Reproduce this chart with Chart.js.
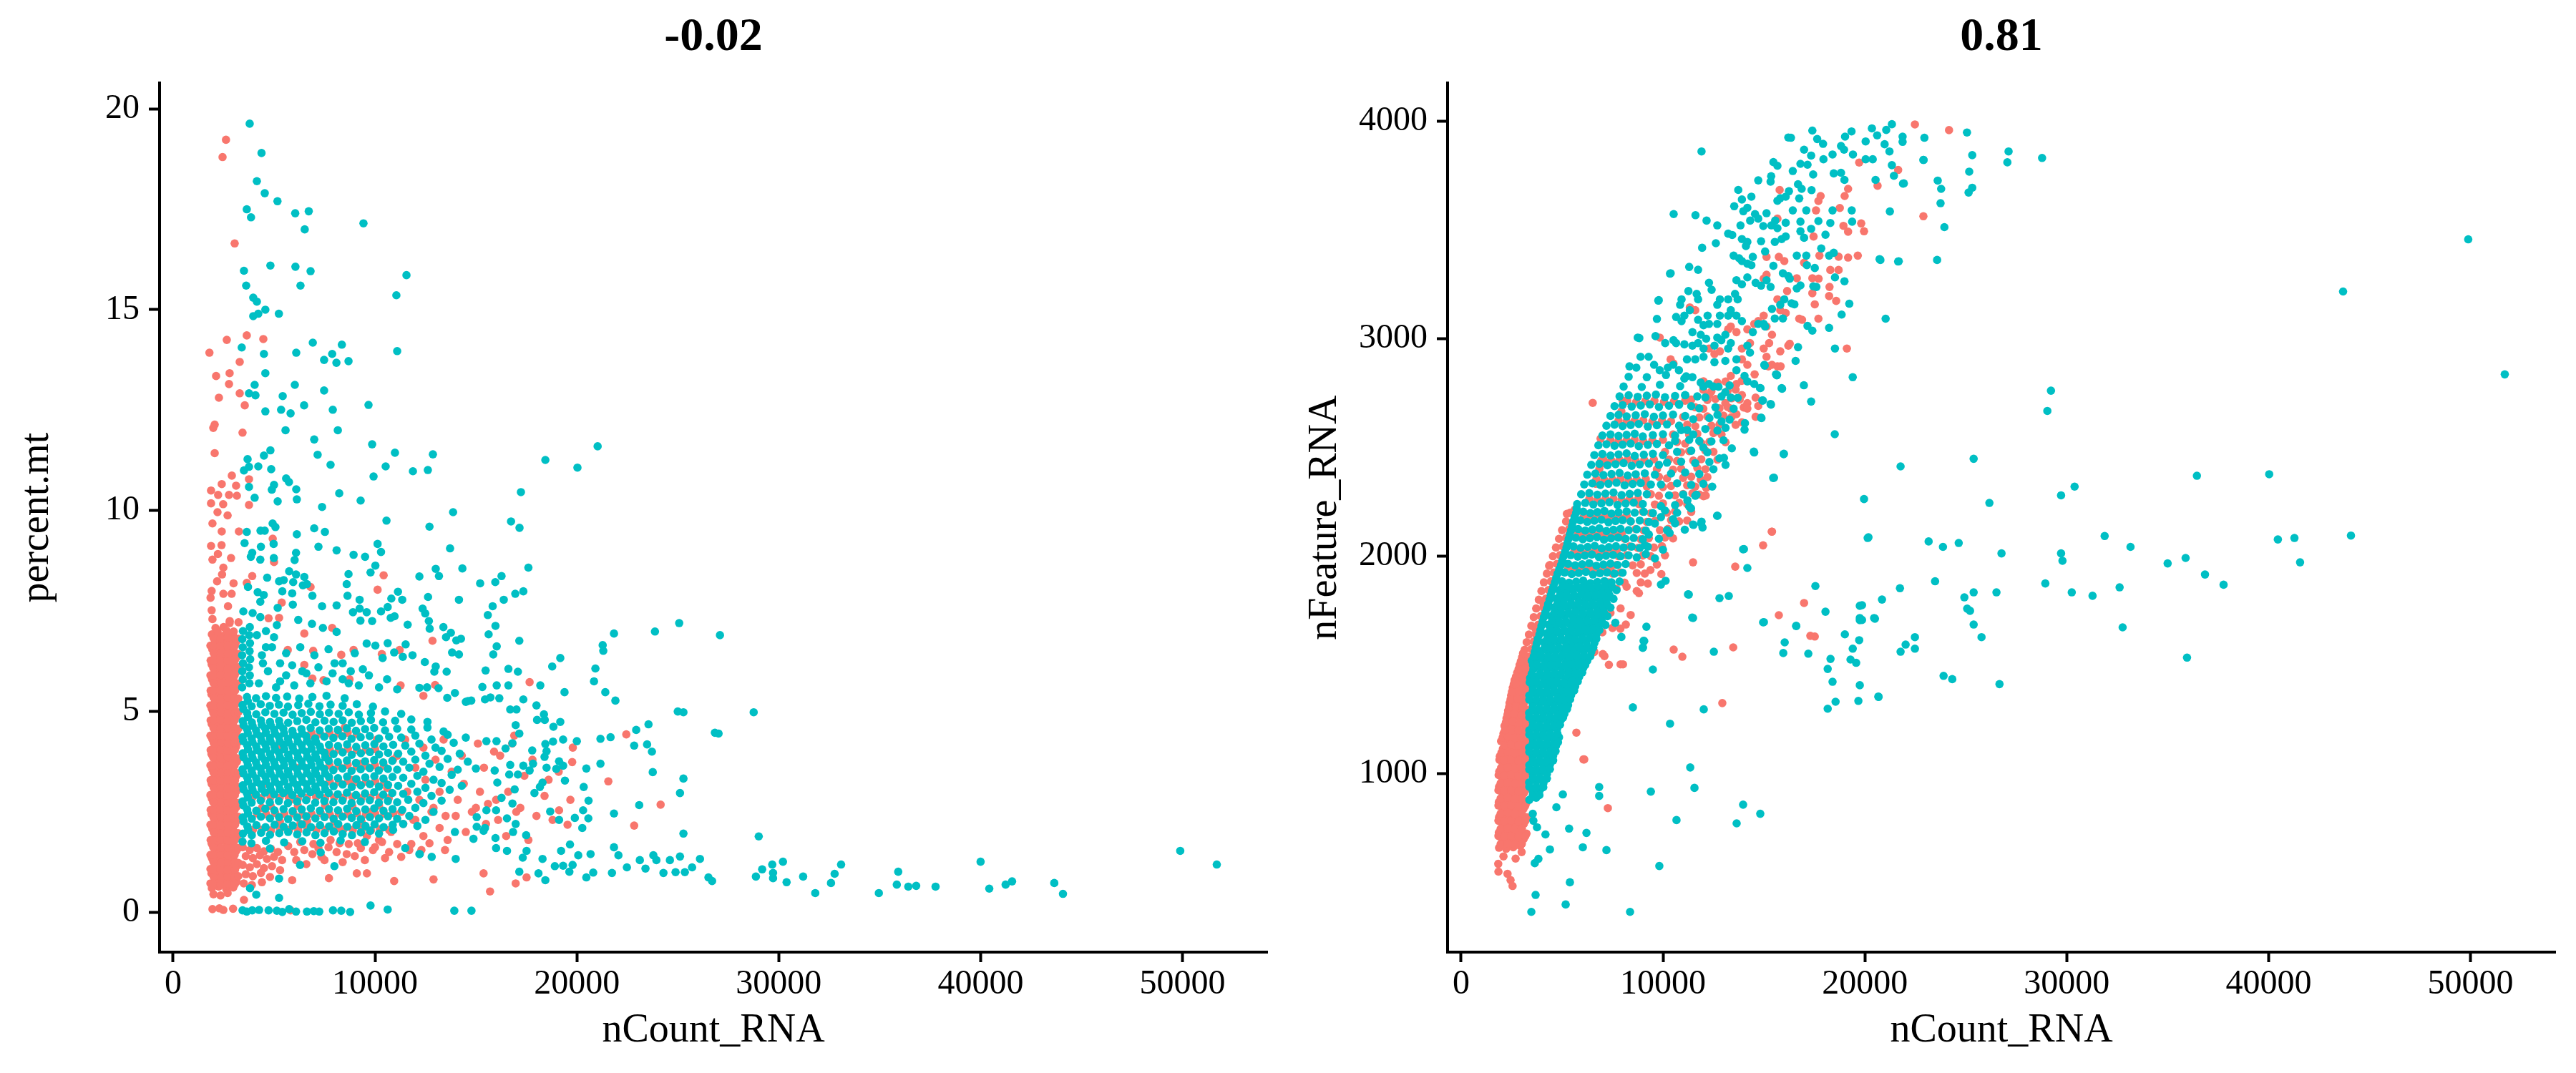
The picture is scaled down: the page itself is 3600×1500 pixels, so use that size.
<!DOCTYPE html>
<html>
<head>
<meta charset="utf-8">
<title>nCount_RNA vs percent.mt / nFeature_RNA</title>
<script src="https://cdn.jsdelivr.net/npm/chart.js"></script>
<style>
  html, body { margin: 0; padding: 0; background: #fff; }
  .panel { position: absolute; top: 0; }
</style>
</head>
<body>
<canvas id="mtChart" class="panel" width="1800" height="1500" style="left:0"></canvas>
<canvas id="featureChart" class="panel" width="1800" height="1500" style="left:1800px"></canvas>
<script>
const xTicks = [0, 10000, 20000, 30000, 40000, 50000]
const mtTicks = [0, 5, 10, 15, 20]
const featureTicks = [1000, 2000, 3000, 4000]
const panelTitles = ["-0.02", "0.81"]
const axisTitles = { x: "nCount_RNA", mt: "percent.mt", feature: "nFeature_RNA" }

// left panel: nCount_RNA vs percent.mt, red group
const mtRed = [
  [1920,0.6],[2260,0.64],[2630,0.58],[2980,0.62],[2080,0.79],[2440,0.77],[2790,0.81],[3140,0.76],
  [1900,0.97],[2270,0.95],[2610,0.99],[2960,0.94],[2090,1.15],[2450,1.17],[2800,1.13],[3160,1.16],
  [1930,1.34],[2280,1.32],[2620,1.36],[2970,1.33],[2070,1.52],[2430,1.54],[2780,1.5],[3130,1.53],
  [1910,1.71],[2250,1.7],[2640,1.73],[2990,1.69],[2100,1.9],[2460,1.88],[2810,1.92],[3170,1.89],
  [1940,2.08],[2290,2.1],[2600,2.07],[2950,2.09],[2060,2.27],[2420,2.25],[2770,2.28],[3120,2.26],
  [1900,2.45],[2260,2.47],[2630,2.44],[2980,2.46],[2090,2.64],[2450,2.62],[2800,2.65],[3150,2.63],
  [1920,2.83],[2280,2.81],[2610,2.84],[2960,2.82],[2080,3.01],[2440,3.03],[2790,3.0],[3140,3.02],
  [1910,3.2],[2270,3.18],[2620,3.21],[2990,3.19],[2070,3.38],[2430,3.4],[2780,3.37],[3130,3.39],
  [1930,3.57],[2290,3.55],[2640,3.58],[2970,3.56],[2100,3.76],[2460,3.74],[2810,3.77],[3160,3.75],
  [1900,3.94],[2250,3.96],[2600,3.93],[2950,3.95],[2060,4.13],[2420,4.11],[2770,4.14],[3120,4.12],
  [1940,4.31],[2280,4.33],[2630,4.3],[2980,4.32],[2090,4.5],[2450,4.48],[2800,4.51],[3150,4.49],
  [1910,4.69],[2260,4.67],[2610,4.7],[2960,4.68],[2070,4.87],[2430,4.89],[2790,4.86],[3140,4.88],
  [1920,5.06],[2290,5.04],[2640,5.07],[2990,5.05],[2080,5.24],[2440,5.26],[2780,5.23],[3130,5.25],
  [1900,5.43],[2270,5.41],[2620,5.44],[2970,5.42],[2100,5.62],[2460,5.6],[2810,5.63],[3160,5.61],
  [1930,5.8],[2280,5.82],[2630,5.79],[2980,5.81],[2060,5.99],[2420,5.97],[2770,6.0],[3120,5.98],
  [1910,6.17],[2250,6.19],[2600,6.16],[2950,6.18],[2090,6.36],[2450,6.34],[2800,6.37],[3150,6.35],
  [1940,6.55],[2290,6.53],[2640,6.56],[2990,6.54],[2070,6.73],[2430,6.75],[2780,6.72],[3130,6.74],
  [1920,6.92],[2270,6.9],[2610,6.93],[2960,6.91],[2100,7.08],[2500,7.1],[1950,7.3],[2800,7.2],
  [1850,0.72],[1990,0.7],[2350,0.69],[2700,0.71],[3060,0.7],[2010,0.88],[2360,0.87],[2710,0.89],[3050,0.88],[3230,0.9],
  [1850,1.08],[1990,1.06],[2340,1.07],[2690,1.05],[3070,1.06],[2000,1.25],[2370,1.24],[2720,1.26],[3060,1.25],[3230,1.23],
  [1850,1.43],[2010,1.43],[2350,1.44],[2700,1.42],[3050,1.43],[1990,1.62],[2360,1.61],[2710,1.63],[3070,1.62],[3230,1.6],
  [1860,1.8],[2000,1.8],[2340,1.81],[2690,1.79],[3060,1.8],[2010,1.99],[2370,1.98],[2720,2.0],[3050,1.99],[3230,1.97],
  [1850,2.18],[1990,2.18],[2350,2.17],[2700,2.19],[3070,2.18],[2000,2.36],[2360,2.37],[2710,2.35],[3060,2.36],[3230,2.38],
  [1860,2.55],[2010,2.55],[2340,2.56],[2690,2.54],[3050,2.55],[1990,2.74],[2370,2.73],[2720,2.75],[3070,2.74],[3230,2.72],
  [1850,2.92],[2000,2.92],[2350,2.93],[2700,2.91],[3060,2.92],[2010,3.1],[2360,3.11],[2710,3.09],[3050,3.1],[3230,3.12],
  [1860,3.29],[1990,3.29],[2340,3.28],[2690,3.3],[3070,3.29],[2000,3.48],[2370,3.47],[2720,3.49],[3060,3.48],[3230,3.46],
  [1850,3.66],[2010,3.66],[2350,3.67],[2700,3.65],[3050,3.66],[1990,3.85],[2360,3.84],[2710,3.86],[3070,3.85],[3230,3.83],
  [1860,4.04],[2000,4.04],[2340,4.05],[2690,4.03],[3060,4.04],[2010,4.22],[2370,4.23],[2720,4.21],[3050,4.22],[3230,4.24],
  [1850,4.4],[1990,4.4],[2350,4.41],[2700,4.39],[3070,4.4],[2000,4.59],[2360,4.58],[2710,4.6],[3060,4.59],[3230,4.57],
  [1860,4.78],[2010,4.78],[2340,4.79],[2690,4.77],[3050,4.78],[1990,4.96],[2370,4.97],[2720,4.95],[3070,4.96],[3230,4.98],
  [1850,5.15],[2000,5.15],[2350,5.14],[2700,5.16],[3060,5.15],[2010,5.34],[2360,5.33],[2710,5.35],[3050,5.34],[3230,5.32],
  [1860,5.52],[1990,5.52],[2340,5.53],[2690,5.51],[3070,5.52],[2000,5.71],[2370,5.7],[2720,5.72],[3060,5.71],[3230,5.69],
  [1850,5.9],[2010,5.9],[2350,5.91],[2700,5.89],[3050,5.9],[1990,6.08],[2360,6.09],[2710,6.07],[3070,6.08],[3230,6.1],
  [1860,6.27],[2000,6.27],[2340,6.26],[2690,6.28],[3060,6.27],[2010,6.45],[2370,6.46],[2720,6.44],[3050,6.45],[3230,6.43],
  [1850,6.64],[1990,6.64],[2350,6.65],[2700,6.63],[3070,6.64],[2000,6.83],[2360,6.82],[2710,6.84],[3060,6.83],[3230,6.81],
  [2200,7.0],[2650,7.01],[3000,6.99],
  [2000,0.45],[2350,0.42],[2700,0.48],[1950,0.08],[2290,0.1],[2490,0.06],[2970,0.09],[3510,0.31],[5820,0.05],
  [3450,1.62],[3800,1.55],[4150,1.6],[4500,1.52],[4850,1.58],[5200,1.5],[3600,1.4],[3950,1.35],[4300,1.42],
  [4650,1.33],[5000,1.38],[5400,1.3],[3450,1.18],[3800,1.12],[4150,1.2],[4500,1.1],[4900,1.15],[5300,1.05],
  [3600,0.95],[3950,0.9],[4350,0.98],[4800,0.88],[3500,0.72],[3900,0.68],[4400,0.75],
  [3950,2.05],[4400,2.06],[4850,2.04],[5300,2.07],[5750,2.05],[6200,2.04],[6650,2.08],[7100,2.05],[7550,2.06],
  [8000,2.04],[8450,2.07],[8900,2.05],[9350,2.06],[9800,2.04],[10250,2.07],[10700,2.05],
  [4160,2.46],[4610,2.44],[5060,2.47],[5510,2.45],[5960,2.46],[6410,2.43],[6860,2.45],[7310,2.47],[7760,2.44],
  [8210,2.46],[8660,2.45],[9110,2.47],[9560,2.44],[10010,2.46],[10460,2.45],[10910,2.47],
  [3930,2.86],[4380,2.84],[4830,2.87],[5280,2.85],[5730,2.86],[6180,2.83],[6630,2.85],[7080,2.87],[7530,2.84],
  [7980,2.86],[8430,2.85],[8880,2.87],[9330,2.84],[9780,2.85],[10230,2.86],[10680,2.84],
  [5290,2.26],[6640,2.27],[7990,2.25],[9340,2.25],[4830,2.65],[6180,2.65],[7530,2.66],[8880,2.64],[10200,2.66],
  [7760,3.26],[8210,3.25],[8660,3.27],[9110,3.24],[9560,3.25],[10010,3.26],[10460,3.24],
  [7750,3.66],[8200,3.65],[8650,3.67],[9100,3.64],[9550,3.65],[10000,3.66],[10450,3.64],
  [7760,4.06],[8210,4.05],[8660,4.07],[9110,4.04],[9560,4.05],[10010,4.06],
  [6850,4.47],[7300,4.44],[7750,4.46],[8200,4.45],[8650,4.47],[9100,4.44],
  [2220,8.92],[1880,9.12],[2400,9.14],[1950,8.78],[2870,8.82],[2490,8.58],[2425,8.41],[2180,8.24],
  [2995,8.19],[3920,8.37],[3650,8.2],[1910,8.0],[1855,7.83],[2490,7.93],[2900,7.93],[2720,7.62],
  [1910,7.52],[4935,9.3],[5000,8.72],[4730,7.32],[5250,7.33],[5380,7.71],[6810,8.1],[2805,7.25],[3240,7.22],
  [2620,19.23],[2450,18.8],[3050,16.65],[3650,14.36],[2660,14.25],[4470,14.27],[1800,13.93],[3300,13.7],
  [2130,13.35],[2800,13.42],[2770,13.15],[3300,12.92],[2270,12.81],[3550,12.62],[2060,12.14],[1990,12.06],
  [3440,11.94],[2060,11.43],[2910,10.87],[2410,10.66],[3120,10.62],[3760,10.78],[1880,10.5],[2230,10.39],
  [2770,10.39],[3160,10.37],[1880,10.18],[2480,10.16],[3760,10.14],[2200,9.96],[2700,9.88],[1950,9.68],
  [2410,9.48],[3260,9.48],
  [6500,6.94],[7880,7.08],[8940,6.53],[8330,6.41],[6940,6.51],[5680,6.53],[11220,6.53],[10340,6.43],
  [11270,5.65],[12400,5.39],[12980,5.66],[6900,5.82],[8740,5.8],[7450,5.78],[6500,6.16],[12850,6.76],
  [10430,8.39],[10130,8.03],[17660,5.73],
  [6000,1.5],[6300,1.75],[6600,1.2],[6900,1.45],[7200,1.6],[7500,1.3],[7800,1.8],[8100,1.5],[8400,1.25],
  [8700,1.7],[9000,1.4],[9300,1.6],[9600,1.9],[9900,1.55],[10200,1.8],[10500,1.35],[10800,2.0],[11100,1.7],
  [11400,2.2],[11700,1.55],[12000,2.3],[12400,1.9],[12800,2.5],[13200,2.1],[13600,1.8],[14000,2.4],
  [14500,2.0],[15000,2.6],[15500,2.2],[16000,2.8],[16500,1.9],[17000,2.5],
  [5700,1.65],[6100,1.3],[6500,1.55],[6950,1.7],[7350,1.38],[7700,1.62],[8250,1.72],[8600,1.45],
  [9150,1.72],[9500,1.3],[10000,1.62],[10350,1.75],[10700,1.5],[11300,1.38],[11800,1.7],[12300,1.55],[12700,1.72],
  [11300,2.5],[11600,3.0],[11900,2.3],[12200,2.8],[12500,3.3],[12900,2.6],[13200,3.0],[13500,2.4],
  [13800,3.5],[14100,2.8],[14400,3.2],[14800,2.5],[15200,3.0],[15600,2.7],[16100,2.3],[16600,3.0],
  [17200,2.6],[11100,3.9],[11500,4.3],[12000,3.6],[12400,4.1],[13000,3.8],[13400,4.3],[14300,3.9],
  [15100,4.2],[15400,3.6],[16200,3.9],[16800,4.2],[17400,3.4],[18000,2.4],[18600,3.3],[17800,3.8],
  [18400,2.9],[19100,3.5],[19800,4.1],[18800,2.3],[17600,1.8],[16900,4.4],[15900,4.0],
  [4600,3.2],[5300,4.1],[6100,3.6],[6900,4.4],[7700,3.9],[8500,4.6],[9300,3.7],[10100,4.3],[10900,3.8],
  [5800,2.8],[7100,3.0],[8800,3.3],[10600,3.1],[4400,2.6],[6300,2.2],[8200,2.1],[9800,2.5],
  [9100,0.97],[9600,0.97],[10950,0.78],[12900,0.82],[15380,0.97],[15700,0.52],[16970,0.72],[17510,0.87],
  [7720,0.85],[13470,1.55],[5900,0.8],
  [22450,4.43],[24150,2.68],[22840,2.16],[21560,3.26],[19680,2.8],[19540,2.18],[19770,3.74],[19120,2.54]
]

// left panel: nCount_RNA vs percent.mt, cyan group
const mtCyan = [
  [3794,19.63],[4380,18.9],[4150,18.2],[4540,17.9],[5170,17.7],[3650,17.5],[3860,17.3],[6050,17.4],
  [6720,17.45],[6520,17.0],[9430,17.15],[4820,16.1],[6060,16.07],[6810,15.96],[3510,15.97],[11560,15.86],
  [3620,15.6],[6310,15.6],[11060,15.36],[3970,15.3],[4150,15.2],[4570,15.0],[3970,14.84],[4220,14.9],
  [5240,14.9],[3400,14.06],[4500,13.9],[6100,13.93],[6920,14.18],[8360,14.13],[7880,13.9],[7480,13.75],
  [8090,13.68],[8690,13.72],[11100,13.97],[4570,13.42],[4040,13.13],[6030,13.13],[7480,12.99],[3760,12.92],
  [4080,12.87],[5430,12.85],[6490,12.62],[9680,12.63],[4570,12.47],[5350,12.51],[5820,12.42],[7910,12.51],
  [5570,12.0],[8160,12.0],[6990,11.77],[9860,11.65],[21030,11.6],[18440,11.26],[20030,11.07],[4820,11.5],
  [4500,11.37],[7160,11.39],[10990,11.44],[12870,11.4],[3690,11.28],[3510,11.0],[3760,11.09],[4220,11.1],
  [4860,11.03],[7800,11.14],[10530,11.1],[11880,10.98],[12620,11.01],[9930,10.85],[5600,10.8],[5740,10.71],
  [5000,10.64],[4890,10.52],[3760,10.59],[6100,10.53],[8230,10.43],[17230,10.46],[4040,10.32],[5180,10.23],
  [6130,10.28],[9290,10.25],[7380,10.09],[13870,9.96],[16740,9.73],[17160,9.57],[10570,9.75],[12700,9.6],
  [3650,9.47],[4330,9.5],[4540,9.5],[4930,9.68],[5070,9.59],[6130,9.41],[6990,9.56],[7520,9.47],
  [4980,9.17],[3540,9.19],[4350,9.1],[3920,8.95],[3850,8.85],[4320,8.78],[4990,8.82],[6090,8.95],
  [6020,8.77],[7200,9.1],[8100,9.01],[8940,8.9],[9510,8.85],[10130,9.17],[10300,8.97],[13720,9.06],
  [17600,8.58],[10020,8.63],[9780,8.46],[8690,8.42],[12200,8.36],[13010,8.55],[13170,8.37],[14330,8.56],
  [15210,8.19],[15960,8.22],[16270,8.37],[4660,8.33],[5750,8.49],[6090,8.41],[6500,8.35],[5250,8.24],
  [5480,8.27],[5950,8.22],[6430,8.14],[6630,8.17],[8600,8.17],[3710,8.1],[4190,7.97],[4490,7.9],
  [5410,7.99],[5900,7.94],[6900,7.88],[8640,7.88],[9240,7.78],[10810,7.81],[11140,7.98],[11350,7.78],
  [12630,7.85],[14160,7.78],[16950,7.93],[17350,7.99],[16380,7.78],[15830,7.62],[15590,7.4],[15970,7.13],
  [15630,6.92],[15860,6.42],[16030,6.62],[17150,6.76],[13520,6.85],[13760,6.96],[14030,6.77],[14260,6.81],
  [13820,6.47],[14160,6.42],[13390,7.1],[12670,7.25],[12710,7.06],[12360,7.56],[12490,7.44],[11620,7.16],
  [10970,7.37],[10780,7.33],[10630,7.6],[10300,7.49],[9860,7.25],[9590,7.47],[9280,7.26],[8910,7.47],
  [9240,7.56],[8100,7.64],[7380,7.62],[5930,7.66],[5180,7.58],[4320,7.73],[3480,7.49],[3940,7.45],
  [4320,7.35],[5140,7.15],[6200,7.28],[6880,7.18],[7420,7.08],[8100,6.98],[9590,6.69],[10020,6.64],
  [10630,6.7],[11520,6.67],[10380,6.33],[10950,6.47],[11380,6.36],[11860,6.4],[12470,6.23],[13010,6.12],
  [12940,5.99],[13550,5.99],[15480,6.02],[16610,6.06],[17080,5.99],[18780,6.12],[19180,6.33],[19390,5.48],
  [18190,5.65],[16610,5.65],[16030,5.65],[15320,5.61],[15450,5.3],[15720,5.35],[16160,5.33],[14610,5.26],
  [13960,5.46],[13580,5.34],[12200,5.59],[12580,5.6],[13150,5.58],
  [14500,5.24],[14770,5.27],[16700,5.05],[17010,5.05],[17350,5.3],[18000,5.15],[18370,4.93],[18030,4.79],
  [18410,4.79],[18840,4.62],[19180,4.74],[20000,4.26],[19320,4.3],[18820,4.25],[18440,4.19],[18400,3.87],
  [18500,4.01],[17790,4.03],[17350,3.65],[17830,3.7],[17660,3.53],[17080,3.43],[16700,3.67],[16650,3.43],
  [15930,3.53],[15520,4.26],[16020,4.26],[16970,4.66],[17150,4.45],[16810,4.21],[16470,4.08],[19120,3.76],
  [19320,3.65],[18980,3.57],[18500,3.6],[19410,3.28],[20470,3.58],[20340,3.12],[20580,2.78],[20570,2.34],
  [19900,2.35],[20310,2.54],[19120,2.3],[18680,2.51],[18170,3.12],[18300,3.23],[17900,2.97],[16920,3.06],
  [16810,2.71],[16970,2.2],[16540,2.34],[16270,2.85],[16060,3.23],[15520,2.54],[16000,2.54],[15380,2.03],
  [14880,1.83],[16000,1.6],[16540,1.53],[16840,2.0],[17490,1.92],[17320,1.36],[17510,1.53],[17150,1.01],
  [18100,0.97],[18300,1.33],[18440,0.8],[18910,1.15],[19320,1.16],[19630,1.01],[19790,1.18],[20070,1.42],
  [20680,1.45],[20470,0.87],[20810,0.99],[20270,2.1],[19660,1.69],[19220,1.53],[15040,2.37],[15040,2.13],
  [15450,2.1],[13960,2.0],[15970,1.85],
  [21840,6.94],[23870,6.99],[25070,7.2],[21280,6.65],[21310,6.51],[20920,6.07],[21410,5.48],[21910,5.27],
  [25000,5.0],[25280,4.98],[26840,4.47],[22940,4.54],[23550,4.68],[22840,4.15],[23480,4.18],[23720,4.0],
  [21170,4.32],[21670,4.36],[23760,3.49],[25280,3.33],[25110,2.97],[21170,3.7],[21840,2.46],[25280,1.96],
  [23090,2.67],[21840,1.62],[22060,1.42],[21740,0.98],[22480,1.12],[23120,1.3],[23400,1.09],[23790,1.42],
  [23940,1.3],[24290,0.98],[24610,1.3],[24890,1.0],[25110,1.39],[25350,1.0],[25710,1.12],[26100,1.33],
  [26520,0.87],[26700,0.78],[20850,5.75],
  [27090,6.9],[28760,4.98],[27020,4.45],[29010,1.89],[29680,1.19],[30210,1.26],[29180,1.07],[29720,0.98],
  [29720,0.85],[28870,0.89],[30390,0.75],[31210,0.89],[31810,0.48],[32590,0.73],[32770,0.96],[33090,1.19],
  [34960,0.48],[35850,0.69],[35920,1.01],[36420,0.64],[36810,0.66],[37770,0.64],[40000,1.26],[40430,0.59],
  [41240,0.69],[41560,0.77],[43650,0.73],[44080,0.46],[49890,1.53],[51700,1.19],
  [3440,0.05],[3650,0.02],[3920,0.05],[4260,0.06],[4730,0.05],[5140,0.04],[5410,0.01],[5750,0.08],
  [6090,0.02],[6630,0.02],[6970,0.03],[7240,0.02],[7920,0.05],[8330,0.04],[8770,0.01],[9780,0.17],
  [10630,0.07],[13930,0.04],[14780,0.04],[3810,0.6],[4120,0.44],[5250,0.84],[5250,0.36],
  [7990,1.15],[6290,1.18],[7310,1.49],[4800,1.59],[12810,1.38],[14000,1.33],[12220,1.45],
  [3420,5.6],[3780,5.7],[3450,5.8],[3800,5.9],[3430,6.0],[3760,6.1],[3460,6.2],[3820,6.3],
  [3420,6.4],[3790,6.5],[3450,6.6],[3810,6.7],[3430,6.8],[3770,6.9],[3460,7.0],[3800,7.1],
  [4250,5.7],[4700,6.0],[5100,5.6],[4400,6.4],[4900,6.6],[5300,6.2],[4150,6.9],[4600,7.0],
  [5600,5.9],[6000,5.65],[6400,6.0],[6800,5.7],[7200,6.1],[7600,5.75],[8000,6.2],[8400,5.8],
  [8800,6.0],[9200,5.65],[9700,5.9],[10200,5.6],[10600,5.8],[11100,5.55],
  [4600,6.6],[5000,6.85],[4450,6.2],[5600,6.45],[6300,6.6],[5900,6.15],[7000,6.4],[7700,6.55],
  [8400,6.2],[9000,6.45],[9400,6.05],[6600,5.95],[7900,5.95],[8700,5.7],[5300,5.75],
  [3440,1.76],[3880,1.72],[4600,1.78],[5500,1.74],[6400,1.77],[7300,1.73],[8300,1.79],[9500,1.75],[11500,1.6],[12200,1.45],
  [3460,1.96],[3900,1.92],[4360,1.98],[4800,1.93],[5260,1.97],[5700,2.0],[6150,1.94],[6610,1.99],[7050,1.92],
  [7500,1.97],[7960,2.01],[8400,1.95],[8860,1.92],[9300,1.99],[9760,2.03],[10200,1.96],[10900,2.05],
  [3680,2.14],[4130,2.17],[4580,2.12],[5030,2.18],[5480,2.13],[5930,2.16],[6380,2.19],[6830,2.12],[7280,2.17],
  [7730,2.14],[8180,2.2],[8630,2.13],[9080,2.17],[9530,2.15],[9980,2.19],[10430,2.12],[10880,2.18],[11400,2.2],[12100,2.15],
  [3450,2.36],[3900,2.33],[4350,2.38],[4800,2.34],[5250,2.37],[5700,2.32],[6150,2.36],[6600,2.39],[7050,2.34],
  [7500,2.37],[7950,2.33],[8400,2.38],[8850,2.35],[9300,2.32],[9750,2.37],[10200,2.34],[10650,2.39],[11100,2.33],[11700,2.4],[12500,2.3],
  [3670,2.56],[4120,2.53],[4570,2.58],[5020,2.54],[5470,2.57],[5920,2.52],[6370,2.56],[6820,2.59],[7270,2.53],
  [7720,2.57],[8170,2.54],[8620,2.58],[9070,2.52],[9520,2.56],[9970,2.59],[10420,2.53],[10870,2.57],[11350,2.55],[12000,2.6],[12900,2.5],
  [3440,2.76],[3890,2.73],[4340,2.78],[4790,2.74],[5240,2.77],[5690,2.72],[6140,2.76],[6590,2.79],[7040,2.73],
  [7490,2.77],[7940,2.74],[8390,2.78],[8840,2.72],[9290,2.76],[9740,2.79],[10190,2.73],[10640,2.77],[11100,2.74],[11650,2.8],[12400,2.72],[13300,2.78],
  [3660,2.96],[4110,2.93],[4560,2.98],[5010,2.94],[5460,2.97],[5910,2.92],[6360,2.96],[6810,2.99],[7260,2.93],
  [7710,2.97],[8160,2.94],[8610,2.98],[9060,2.92],[9510,2.96],[9960,2.99],[10410,2.93],[10860,2.97],[11400,2.95],[12100,3.0],[12800,2.9],[13700,3.05],
  [3450,3.16],[3900,3.13],[4350,3.18],[4800,3.14],[5250,3.17],[5700,3.12],[6150,3.16],[6600,3.19],[7050,3.13],
  [7500,3.17],[7950,3.14],[8400,3.18],[8850,3.12],[9300,3.16],[9750,3.19],[10200,3.13],[10650,3.17],[11150,3.15],[11800,3.2],[12500,3.1],[13300,3.22],[14300,3.15],
  [3670,3.36],[4120,3.33],[4570,3.38],[5020,3.34],[5470,3.37],[5920,3.32],[6370,3.36],[6820,3.39],[7270,3.33],
  [7720,3.37],[8170,3.34],[8620,3.38],[9070,3.32],[9520,3.36],[9970,3.39],[10420,3.33],[10870,3.37],[11400,3.35],[12100,3.4],[12900,3.3],[13800,3.42],
  [3440,3.56],[3890,3.53],[4340,3.58],[4790,3.54],[5240,3.57],[5690,3.52],[6140,3.56],[6590,3.59],[7040,3.53],
  [7490,3.57],[7940,3.54],[8390,3.58],[8840,3.52],[9290,3.56],[9740,3.59],[10190,3.53],[10640,3.57],[11100,3.55],[11700,3.6],[12400,3.5],[13200,3.62],[14100,3.55],[15000,3.58],
  [3660,3.76],[4110,3.73],[4560,3.78],[5010,3.74],[5460,3.77],[5910,3.72],[6360,3.76],[6810,3.79],[7260,3.73],
  [7710,3.77],[8160,3.74],[8610,3.78],[9060,3.72],[9510,3.76],[9960,3.79],[10410,3.73],[10860,3.77],[11400,3.75],[12000,3.8],[12700,3.7],[13600,3.82],[14600,3.75],
  [3450,3.96],[3900,3.93],[4350,3.98],[4800,3.94],[5250,3.97],[5700,3.92],[6150,3.96],[6600,3.99],[7050,3.93],
  [7500,3.97],[7950,3.94],[8400,3.98],[8850,3.92],[9300,3.96],[9750,3.99],[10200,3.93],[10650,3.97],[11150,3.95],[11800,4.0],[12500,3.9],[13300,4.02],[14200,3.95],
  [3670,4.16],[4120,4.13],[4570,4.18],[5020,4.14],[5470,4.17],[5920,4.12],[6370,4.16],[6820,4.19],[7270,4.13],
  [7720,4.17],[8170,4.14],[8620,4.18],[9070,4.12],[9520,4.16],[9970,4.19],[10420,4.13],[10900,4.17],[11500,4.15],[12200,4.2],[13000,4.1],[13900,4.22],
  [3440,4.36],[3890,4.33],[4340,4.38],[4790,4.34],[5240,4.37],[5690,4.32],[6140,4.36],[6590,4.39],[7040,4.33],
  [7490,4.37],[7940,4.34],[8390,4.38],[8840,4.32],[9290,4.36],[9740,4.39],[10200,4.33],[10700,4.37],[11300,4.35],[12000,4.4],[12800,4.3],[13600,4.42],[14500,4.35],
  [3660,4.56],[4110,4.53],[4560,4.58],[5010,4.54],[5460,4.57],[5910,4.52],[6360,4.56],[6810,4.59],[7260,4.53],
  [7710,4.57],[8160,4.54],[8610,4.58],[9060,4.52],[9510,4.56],[9960,4.59],[10500,4.53],[11100,4.57],[11800,4.55],[12600,4.6],[13400,4.5],
  [3450,4.76],[3900,4.73],[4350,4.78],[4800,4.74],[5250,4.77],[5700,4.72],[6150,4.76],[6600,4.79],[7050,4.73],
  [7500,4.77],[7950,4.74],[8400,4.78],[8850,4.72],[9300,4.76],[9800,4.79],[10400,4.73],[11000,4.77],[11800,4.8],[12600,4.74],
  [3670,4.96],[4120,4.93],[4570,4.98],[5020,4.94],[5470,4.97],[5920,4.92],[6370,4.96],[6820,4.99],[7270,4.93],
  [7720,4.97],[8200,4.94],[8700,4.98],[9200,4.92],[9800,4.96],[10500,5.0],[11300,4.94],
  [3440,5.16],[3890,5.13],[4340,5.18],[4790,5.14],[5240,5.17],[5690,5.12],[6200,5.16],[6700,5.19],[7250,5.13],
  [7800,5.17],[8400,5.14],[9100,5.18],[9900,5.12],
  [3660,5.36],[4110,5.33],[4600,5.38],[5100,5.34],[5650,5.37],[6250,5.32],[6900,5.36],[7600,5.39],[8500,5.33],
  [3720,2.05],[3490,2.26],[3710,2.46],[3480,2.66],[3700,2.86],[3710,4.86],[3480,5.06],[3700,5.26],
  [3490,3.06],[3940,3.04],[4390,3.07],[4840,3.05],[5290,3.06],[5740,3.03],[6190,3.05],[6640,3.07],[7090,3.04],[7540,3.06],
  [3710,3.26],[4160,3.24],[4610,3.27],[5060,3.25],[5510,3.26],[5960,3.23],[6410,3.25],[6860,3.27],[7310,3.24],
  [3480,3.46],[3930,3.44],[4380,3.47],[4830,3.45],[5280,3.46],[5730,3.43],[6180,3.45],[6630,3.47],[7080,3.44],[7530,3.46],
  [3700,3.66],[4150,3.64],[4600,3.67],[5050,3.65],[5500,3.66],[5950,3.63],[6400,3.65],[6850,3.67],[7300,3.64],
  [3490,3.86],[3940,3.84],[4390,3.87],[4840,3.85],[5290,3.86],[5740,3.83],[6190,3.85],[6640,3.87],[7090,3.84],[7540,3.86],
  [3710,4.06],[4160,4.04],[4610,4.07],[5060,4.05],[5510,4.06],[5960,4.03],[6410,4.05],[6860,4.07],[7310,4.04],
  [3480,4.26],[3930,4.24],[4380,4.27],[4830,4.25],[5280,4.26],[5730,4.23],[6180,4.25],[6630,4.27],[7080,4.24],
  [3700,4.46],[4150,4.44],[4600,4.47],[5050,4.45],[5500,4.46],[5950,4.43],[6400,4.45],
  [3490,4.66],[3940,4.64],[4390,4.67],[4840,4.65],[5290,4.66]
]

// right panel: nCount_RNA vs nFeature_RNA, red group
const featRed = [
  [1840,586],[1850,550],[2300,540],[2450,511],[2550,484],[2100,620],[2700,610],[3000,640],
  [1880,660],[2230,655],[2580,662],[2930,668],[2050,695],[2400,698],[2750,692],[3100,700],
  [1870,730],[2220,733],[2570,728],[2920,735],[3240,725],[2060,765],[2410,768],[2760,762],[3110,770],
  [1880,800],[2230,803],[2580,798],[2930,805],[3250,800],[2050,835],[2400,838],[2750,832],[3100,840],
  [1870,870],[2220,873],[2570,868],[2920,875],[3240,868],[2060,905],[2410,908],[2760,902],[3110,910],
  [1880,940],[2230,943],[2580,938],[2930,945],[3250,938],[2050,975],[2400,978],[2750,972],[3100,980],
  [1890,1010],[2220,1013],[2570,1008],[2920,1015],[3240,1010],[2060,1045],[2410,1048],[2760,1042],[3110,1050],
  [1920,1080],[2230,1083],[2580,1078],[2930,1085],[3250,1080],[2070,1115],[2400,1118],[2750,1112],[3100,1120],
  [1980,1150],[2240,1153],[2570,1148],[2920,1155],[3250,1150],[2100,1185],[2410,1188],[2760,1182],[3110,1190],
  [2150,1220],[2480,1223],[2820,1218],[3180,1225],[2250,1255],[2600,1258],[2950,1252],[3280,1260],
  [2330,1290],[2680,1293],[3030,1288],[3330,1295],[2400,1325],[2750,1328],[3100,1322],
  [2480,1360],[2830,1363],[3180,1357],[2560,1395],[2900,1398],[3250,1392],
  [2650,1430],[3000,1433],[3330,1427],[2780,1465],[3120,1468],[3420,1462],
  [2900,1500],[3240,1503],[3550,1497],[3020,1535],[3350,1538],[3650,1532],
  [1960,677],[2310,680],[2660,675],[3010,678],[1850,714],[2140,712],[2490,715],[2840,710],[3180,713],
  [1960,747],[2310,750],[2660,745],[3010,748],[1850,784],[2140,782],[2490,785],[2840,780],[3180,783],
  [1960,817],[2310,820],[2660,815],[3010,818],[1850,854],[2140,852],[2490,855],[2840,850],[3180,853],
  [1960,887],[2310,890],[2660,885],[3010,888],[1850,924],[2140,922],[2490,925],[2840,920],[3180,923],
  [1960,957],[2310,960],[2660,955],[3010,958],[1860,994],[2140,992],[2490,995],[2840,990],[3180,993],
  [1980,1027],[2310,1030],[2660,1025],[3010,1028],[1900,1064],[2140,1062],[2490,1065],[2840,1060],[3180,1063],
  [2000,1097],[2310,1100],[2660,1095],[3010,1098],[2150,1132],[2490,1135],[2840,1130],[3180,1133],
  [2060,1167],[2330,1170],[2660,1165],[3010,1168],[2180,1202],[2500,1205],[2840,1200],[3180,1203],
  [2220,1237],[2560,1240],[2900,1235],[3240,1238],[2300,1272],[2650,1275],[3000,1270],[3320,1273],
  [2380,1307],[2720,1310],[3060,1305],[2450,1342],[2800,1345],[3150,1340],[2520,1377],[2870,1380],[3220,1375],
  [2610,1412],[2960,1415],[3300,1410],[2720,1447],[3060,1450],[3380,1445],[2850,1482],[3180,1485],[3500,1480],
  [2960,1517],[3300,1520],[3600,1515],
  [3150,1570],[3480,1573],[3250,1605],[3600,1608],[3360,1640],[3700,1643],[3480,1680],[3820,1685],
  [3600,1720],[3950,1725],[3720,1760],[4080,1765],[3850,1800],[4200,1805],[3980,1840],[4330,1845],
  [4100,1880],[4450,1885],[4250,1920],[4600,1925],[4400,1960],[4750,1965],[4550,2000],[4900,2005],
  [4700,2040],[5050,2045],[4850,2080],[5200,2085],[5000,2120],[5350,2125],[5200,2160],[5400,2200],
  [6600,1560],[7100,1541],[7900,1503],[7000,1650],[7500,1670],[7400,1740],[7900,1760],[8400,1730],
  [7700,1850],[8200,1860],[8700,1840],
  [7300,1880],[8100,1878],[8900,1880],[7500,1920],[7900,1925],[8700,1923],[9100,1920],
  [7700,1960],[8500,1958],[8900,1963],[9700,1962],[7800,2000],[8200,2005],[9000,2003],[9400,2000],[10100,2004],
  [8350,2045],[8750,2038],[9550,2040],[9950,2046],[8100,2080],[8900,2078],[9300,2083],[10100,2086],[10500,2082],
  [8650,2125],[9050,2118],[9850,2120],[10250,2126],[8400,2160],[9200,2158],[9600,2163],[10400,2166],[10800,2160],[11200,2164],
  [9000,2205],[9400,2198],[10200,2200],[10600,2206],[11400,2204],[8800,2240],[9600,2238],[10000,2243],[10800,2246],[11200,2240],
  [9400,2285],[9800,2278],[10600,2280],[11000,2286],[11800,2284],[9200,2320],[10000,2318],[10400,2323],[11200,2326],[11600,2320],
  [9800,2365],[10200,2358],[11000,2360],[11400,2366],[12200,2364],[9700,2400],[10500,2398],[10900,2403],[11700,2406],[12100,2400],
  [10300,2445],[10700,2438],[11500,2440],[11900,2446],[12700,2444],[10100,2480],[10900,2478],[11300,2483],[12100,2486],[12500,2480],
  [10700,2525],[11100,2518],[11900,2520],[12300,2526],[13100,2524],[10500,2560],[11300,2558],[11700,2563],[12500,2566],[12900,2560],
  [11200,2605],[11600,2598],[12400,2600],[12800,2606],[13600,2604],[11000,2640],[11800,2638],[12200,2643],[13000,2646],[13400,2640],
  [11600,2685],[12000,2678],[12800,2680],[13200,2686],[14000,2684],[11400,2720],[12200,2718],[12600,2723],[13400,2726],[13800,2720],
  [12000,2765],[12400,2758],[13200,2760],[13600,2766],[11900,2800],[12700,2798],[13100,2803],[13900,2806],
  [5305,1942],[5655,1938],[6005,1941],[6355,1945],[6705,1938],[7055,1942],[7405,1945],
  [5605,2022],[5955,2018],[6305,2021],[6655,2025],[7005,2018],[7355,2022],[7705,2025],
  [5855,2102],[6205,2098],[6555,2101],[6905,2105],[7255,2098],[7605,2102],[7955,2105],
  [6075,2182],[6425,2178],[6775,2181],[7125,2185],[7475,2178],[7825,2182],[8200,2185],
  [6350,2264],[6750,2260],[7150,2263],[7550,2265],[7950,2260],[8350,2263],[8775,2265],
  [6700,2354],[7100,2350],[7500,2353],[7900,2355],[8300,2350],[8700,2353],[9150,2355],
  [7050,2444],[7450,2440],[7850,2443],[8250,2445],[8650,2440],[9075,2443],[9550,2445],
  [7400,2534],[7800,2530],[8200,2533],[8600,2535],[9025,2530],[9475,2533],[10000,2535],
  [7800,2624],[8200,2620],[8600,2623],[9025,2625],[9475,2620],[9950,2623],[10400,2621],
  [8225,2714],[8675,2710],[9125,2713],[9575,2715],[10050,2710],[10550,2713],[11100,2715],
  [15780,3684],[15670,3552],[15740,3376],[16010,3357],[15130,3376],[15130,3294],[14990,3276],[16150,3219],
  [15670,3181],[15810,3131],[16080,3118],[14990,3106],[14720,3081],[15130,3056],[15400,3018],[15260,2980],
  [14990,2955],[15130,2917],[15400,2880],[15670,2873],[15810,2942],[16210,2968],[14180,3043],[14520,3068],
  [14310,2980],[13910,2955],[13910,2905],[14180,2880],[13360,2829],[13640,2792],[13910,2741],[14180,2704],
  [14590,2729],[14720,2691],[11330,3144],[11600,3131],[13230,3043],[13360,3056],[13640,3030],[12280,2955],
  [12550,2930],[12820,2942],[12010,2804],[12280,2741],[12690,2679],[13090,2704],[13360,2679],[13640,2653],
  [13910,2616],[14180,2679],[14590,2641],[9840,3005],[8000,2716],[7940,2666],[6990,2427],[7260,2427],
  [6850,2402],[5630,2214],[5770,2113],[5360,2100],[11460,2289],[12010,2276],[12140,2314],[11870,2352],
  [15400,2113],[10380,2905],[10520,2886],
  [22480,3985],[24170,3959],[19720,3810],[21650,3776],[20630,3703],[22900,3563],
  [19170,3689],[19000,3656],[17700,3633],[17580,3590],[17810,3656],[18760,3601],[19820,3530],[19960,3494],
  [18940,3519],[19170,3492],[17460,3470],[17750,3382],[18700,3377],[19170,3373],[19650,3382],
  [18290,3316],[18700,3316],[16990,3349],[16630,3278],[17400,3278],[17400,3209],[18230,3196],[18580,3174],
  [17520,3158],[17700,3092],[16750,3092],[16280,2977],[19110,2955],[17710,3276],[18250,3238],[16890,3087],
  [6520,2705],[6910,2540],[14540,2836],[15220,2873],[15830,2873],[12120,2279],
  [9920,1918],[9380,1937],[9250,1874],[8810,1830],[7890,1667],[8160,1686],[7020,1550],
  [6940,2440],[6670,2333],[5240,2195],[4360,1956],[4090,1780],[3680,1667],[3070,1554],[2730,1415],
  [7270,842],[6060,1066],[5710,1189],[12940,1325],[10530,1571],[10960,1538],[13480,1581],[15740,1729],
  [16990,1785],[17520,1631],[13580,1952],[14960,2050],[15390,2113],[11490,1972],[17300,1634],
  [7320,1501],[8020,1503],[6100,1066]
]

// right panel: nCount_RNA vs nFeature_RNA, cyan group
const featCyan = [
  [3380,880],[3720,890],[3550,920],[3900,925],[3370,960],[3720,965],[4080,958],
  [3550,1000],[3900,1005],[4250,998],[3380,1040],[3720,1045],[4070,1038],[4400,1042],
  [3550,1080],[3900,1085],[4250,1078],[4560,1083],[3370,1120],[3720,1125],[4070,1118],[4420,1123],[4700,1128],
  [3550,1160],[3900,1165],[4250,1158],[4600,1163],[4850,1168],[3380,1200],[3720,1205],[4070,1198],[4420,1203],[4760,1208],
  [3550,1240],[3900,1245],[4250,1238],[4600,1243],[4950,1248],
  [3370,1280],[3720,1285],[4070,1278],[4420,1283],[4770,1288],[5120,1276],
  [3550,1320],[3900,1325],[4250,1318],[4600,1323],[4950,1328],[5300,1316],
  [3380,1360],[3720,1365],[4070,1358],[4420,1363],[4770,1368],[5120,1356],[5450,1362],
  [3550,1400],[3900,1405],[4250,1398],[4600,1403],[4950,1408],[5300,1396],[5650,1402],
  [3420,1440],[3750,1445],[4100,1438],[4450,1443],[4800,1448],[5150,1436],[5500,1442],[5850,1446],
  [3580,1480],[3930,1485],[4280,1478],[4630,1483],[4980,1488],[5330,1476],[5680,1482],[6050,1486],
  [3500,1520],[3800,1525],[4150,1518],[4500,1523],[4850,1528],[5200,1516],[5550,1522],[5900,1526],[6250,1520],
  [3650,1560],[3980,1565],[4330,1558],[4680,1563],[5030,1568],[5380,1556],[5730,1562],[6080,1566],[6450,1560],
  [3750,1600],[4100,1605],[4450,1598],[4800,1603],[5150,1608],[5500,1596],[5850,1602],[6200,1606],[6600,1600],
  [3880,1640],[4230,1645],[4580,1638],[4930,1643],[5280,1648],[5630,1636],[5980,1642],[6330,1646],[6700,1640],
  [3980,1680],[4330,1685],[4680,1678],[5030,1683],[5380,1688],[5730,1676],[6080,1682],[6430,1686],[6800,1680],[7150,1684],
  [4100,1720],[4450,1725],[4800,1718],[5150,1723],[5500,1728],[5850,1716],[6200,1722],[6550,1726],[6900,1720],[7250,1724],
  [4250,1760],[4600,1765],[4950,1758],[5300,1763],[5650,1768],[6000,1756],[6350,1762],[6700,1766],[7050,1760],[7400,1764],
  [4380,1800],[4730,1805],[5080,1798],[5430,1803],[5780,1808],[6130,1796],[6480,1802],[6830,1806],[7180,1800],[7550,1804],
  [4500,1840],[4850,1845],[5200,1838],[5550,1843],[5900,1848],[6250,1836],[6600,1842],[6950,1846],[7300,1840],[7700,1844],
  [4650,1880],[5000,1885],[5350,1878],[5700,1883],[6050,1888],[6400,1876],[6750,1882],[7100,1886],[7450,1880],[7850,1884],
  [4780,1920],[5130,1925],[5480,1918],[5830,1923],[6180,1928],[6530,1916],[6880,1922],[7230,1926],[7600,1920],[8000,1924],
  [4950,1960],[5300,1965],[5650,1958],[6000,1963],[6350,1968],[6700,1956],[7050,1962],[7400,1966],[7750,1960],[8150,1964],
  [5080,2000],[5430,2005],[5780,1998],[6130,2003],[6480,2008],[6830,1996],[7180,2002],[7530,2006],[7900,2000],[8300,2004],[8700,1995],[9150,2010],
  [5220,2040],[5570,2045],[5920,2038],[6270,2043],[6620,2048],[6970,2036],[7320,2042],[7670,2046],[8050,2040],[8450,2044],[8850,2038],[9250,2044],
  [5330,2080],[5680,2085],[6030,2078],[6380,2083],[6730,2088],[7080,2076],[7430,2082],[7780,2086],[8150,2080],[8550,2084],[9000,2078],
  [5450,2120],[5800,2125],[6150,2118],[6500,2123],[6850,2128],[7200,2116],[7550,2122],[7900,2126],[8300,2120],[8700,2124],[9150,2118],
  [5550,2160],[5900,2165],[6250,2158],[6600,2163],[6950,2168],[7300,2156],[7650,2162],[8000,2166],[8400,2160],[8850,2164],[9300,2158],
  [5700,2200],[6050,2205],[6400,2198],[6750,2203],[7100,2208],[7450,2196],[7800,2202],[8200,2206],[8600,2200],[9050,2204],[9500,2198],
  [3550,900],[3880,902],[3380,940],[3725,942],[4070,938],[3550,980],[3895,982],[4250,978],
  [3380,1020],[3725,1022],[4075,1018],[4400,1021],[3550,1060],[3895,1062],[4245,1058],[4560,1061],
  [3380,1100],[3725,1102],[4075,1098],[4420,1101],[4680,1104],[3550,1140],[3895,1142],[4245,1138],[4595,1141],[4800,1145],
  [3380,1180],[3725,1182],[4075,1178],[4420,1181],[4770,1185],[3550,1220],[3895,1222],[4245,1218],[4595,1221],[4900,1225],
  [3380,1260],[3725,1262],[4075,1258],[4420,1261],[4770,1265],[5050,1258],
  [3550,1300],[3895,1302],[4245,1298],[4595,1301],[4945,1305],[5250,1298],
  [3380,1340],[3725,1342],[4075,1338],[4420,1341],[4770,1345],[5120,1338],[5400,1342],
  [3550,1380],[3895,1382],[4245,1378],[4595,1381],[4945,1385],[5295,1378],[5600,1382],
  [3400,1420],[3725,1422],[4075,1418],[4420,1421],[4770,1425],[5120,1418],[5470,1422],[5780,1424],
  [3500,1460],[3925,1462],[4275,1458],[4625,1461],[4975,1465],[5325,1458],[5675,1462],[6000,1465],
  [3560,1500],[3755,1502],[4105,1498],[4455,1501],[4805,1505],[5155,1498],[5505,1502],[5855,1505],[6150,1500],
  [3600,1540],[3975,1542],[4325,1538],[4675,1541],[5025,1545],[5375,1538],[5725,1542],[6075,1545],[6400,1540],
  [3700,1580],[4150,1582],[4500,1578],[4850,1581],[5200,1585],[5550,1578],[5900,1582],[6250,1585],[6550,1580],
  [3800,1620],[4275,1622],[4625,1618],[4975,1621],[5325,1625],[5675,1618],[6025,1622],[6375,1625],[6700,1620],
  [3930,1660],[4405,1662],[4755,1658],[5105,1661],[5455,1665],[5805,1658],[6155,1662],[6505,1665],[6850,1660],
  [4040,1700],[4505,1702],[4855,1698],[5205,1701],[5555,1705],[5905,1698],[6255,1702],[6605,1705],[6975,1700],
  [4170,1740],[4625,1742],[4975,1738],[5325,1741],[5675,1745],[6025,1738],[6375,1742],[6725,1745],[7075,1740],
  [4310,1780],[4775,1782],[5125,1778],[5475,1781],[5825,1785],[6175,1778],[6525,1782],[6875,1785],[7225,1780],
  [4440,1820],[4905,1822],[5255,1818],[5605,1821],[5955,1825],[6305,1818],[6655,1822],[7005,1825],[7355,1820],
  [4570,1860],[5025,1862],[5375,1858],[5725,1861],[6075,1865],[6425,1858],[6775,1862],[7125,1865],[7475,1860],
  [4710,1900],[4860,1940],[5010,1980],[5150,2020],[5270,2060],[5390,2100],[5500,2140],[5620,2180],[5720,2220],
  [5750,2240],[6150,2245],[6550,2238],[6950,2243],[7350,2248],[7750,2236],[8150,2242],[8550,2246],[9000,2240],
  [5950,2285],[6350,2290],[6750,2283],[7150,2288],[7550,2293],[7950,2281],[8350,2287],[8750,2291],[9200,2285],
  [6100,2330],[6500,2335],[6900,2328],[7300,2333],[7700,2338],[8100,2326],[8500,2332],[8900,2336],[9400,2330],
  [6250,2375],[6650,2380],[7050,2373],[7450,2378],[7850,2383],[8250,2371],[8650,2377],[9100,2381],[9600,2375],
  [6450,2420],[6850,2425],[7250,2418],[7650,2423],[8050,2428],[8450,2416],[8850,2422],[9300,2426],[9800,2420],
  [6600,2465],[7000,2470],[7400,2463],[7800,2468],[8200,2473],[8600,2461],[9050,2467],[9500,2471],[10000,2465],
  [6800,2510],[7200,2515],[7600,2508],[8000,2513],[8400,2518],[8800,2506],[9250,2512],[9700,2516],[10300,2510],
  [7000,2555],[7400,2560],[7800,2553],[8200,2558],[8600,2563],[9000,2551],[9500,2557],[10000,2561],[10600,2555],
  [7200,2600],[7600,2605],[8000,2598],[8400,2603],[8800,2608],[9250,2596],[9700,2602],[10200,2606],[10800,2600],
  [7400,2645],[7800,2650],[8200,2643],[8650,2648],[9100,2653],[9550,2641],[10000,2647],[10500,2651],[11100,2645],
  [7600,2690],[8000,2695],[8450,2688],[8900,2693],[9350,2698],[9800,2686],[10300,2692],[10800,2696],[11400,2690],
  [7850,2735],[8300,2740],[8750,2733],[9200,2738],[9650,2743],[10100,2731],[10600,2737],[11100,2741],[11700,2735],
  [8050,2780],[8950,2778],[9850,2788],[10850,2782],[12000,2780],[8300,2825],[9200,2823],[10150,2833],[11150,2827],
  [11200,2580],[11500,2560],[11800,2530],[12000,2500],[12700,2650],[12900,2620],[13100,2590],[12800,2450],
  [13100,2420],[12500,2400],[10800,2700],[11100,2740],[9300,2100],[9600,2150],[9900,2180],[9100,2050],
  [9900,2230],[10600,2235],[11300,2228],[10300,2280],[11000,2284],[11600,2278],
  [9900,2330],[10700,2335],[11400,2328],[12000,2333],[10400,2380],[11100,2385],[11800,2378],
  [10200,2430],[10900,2435],[11600,2428],[12300,2433],[10700,2480],[11400,2485],[12200,2478],
  [10600,2530],[11300,2535],[12400,2528],[13000,2533],[10900,2580],[12100,2585],[12700,2578],
  [11500,2630],[12300,2635],[13300,2628],[11800,2680],[12600,2685],[13500,2678],
  [12100,2730],[12900,2735],[13700,2728],[12500,2780],[13300,2785],
  [9600,1990],[10000,2030],[9800,2080],[10200,2120],[10500,2170],[10100,2210],[10700,2200],
  [16210,3925],[15470,3812],[15670,3795],[14720,3728],[13730,3684],[13530,3609],[13910,3640],[14180,3602],
  [14380,3653],[13980,3586],[14560,3573],[14720,3552],[14320,3543],[15130,3577],[14970,3518],[15370,3521],
  [15560,3543],[15670,3508],[15880,3458],[15540,3445],[16080,3470],[15670,3634],[15810,3646],[16080,3653],
  [16240,3678],[15360,3747],[15330,3722],[16080,3533],
  [12690,3521],[13230,3483],[13430,3477],[12620,3439],[11940,3418],[13840,3521],[14180,3445],[13910,3458],
  [14110,3426],[14860,3448],[15060,3401],[15470,3335],[15940,3301],[16210,3288],[16280,3276],
  [13500,3382],[13770,3370],[13910,3357],[14180,3345],[14380,3338],[14450,3376],
  [13640,3269],[13910,3250],[14180,3282],[14590,3257],[14860,3244],[15130,3269],[15330,3238],
  [13570,3206],[13700,3181],[13230,3181],[12820,3181],[12690,3156],[13360,3131],[13640,3106],[13910,3081],
  [12280,3257],[12410,3225],[11670,3206],[11740,3181],[11260,3219],[10920,3181],[10850,3156],[9770,3175],[9700,3091],
  [10650,3100],[10920,3081],[11060,3106],[11330,3131],[11740,3087],[12010,3062],[12210,3106],[12280,3068],
  [12690,3068],[12820,3106],[13230,3106],[13360,3118],[11460,3030],[11870,3018],[12140,3000],[12690,3005],[13090,3018],
  [8750,3005],[9630,3012],[10110,2980],[10520,2993],[10650,2980],[11060,2974],[11460,2968],[11740,2980],
  [12010,2955],[12550,2968],[12890,2993],[13230,2955],[13360,2980],
  [11190,2905],[11600,2905],[12010,2917],[12550,2892],[13090,2898],[13640,2905],
  [8340,2873],[8680,2867],[8890,2917],[9290,2917],[9560,2880],[9840,2855],[10240,2867],[10510,2880],
  [10790,2855],[11060,2817],[11460,2823],[11870,2798],[12280,2792],[12750,2779],[13090,2754],[13360,2729],
  [13640,2855],[14040,2829],[14180,2804],[14520,2792],
  [14450,3030],[14720,3068],[14990,3068],[15060,3056],[15540,3093],[15940,3093],[15400,3137],[15810,3156],[16010,3181],
  [14180,2968],[14310,2936],[15600,2836],[15020,2880],[14830,2773],
  [15500,2361],[15980,2469],[14520,2477],[14860,2637],[15880,2773],[15330,2700],[14920,2716],[15640,2832],
  [11610,3568],[12160,3543],[11300,3330],[11740,3317],[10380,3301],
  [11910,3861],[10530,3573],[10350,3299],[9790,3177],[8830,3003],
  [25060,3948],[25320,3844],[27120,3861],[27060,3811],[28780,3831],[25170,3768],[25320,3694],[25140,3672],
  [23610,3727],[23780,3689],[23750,3623],[23940,3513],[23580,3362],[21650,3355],[20730,3366],[21240,3585],
  [22900,3822],[21890,3713],[21440,3749],[21340,3798],[21220,3861],[20980,3894],[21870,3929],[21870,3905],
  [22950,3924],[21340,3986],[21060,3960],[20350,3967],[20610,3935],[20040,3907],[21030,3092],[19230,3161],
  [18850,3111],[18230,3050],[16690,2961],[18520,2955],[19340,3953],[19020,3929],[17400,3957],[16340,3924],
  [16990,3869],[17930,3896],[17640,3918],[17340,3842],[17950,3825],[18400,3847],[18970,3869],[19410,3847],
  [18820,3886],[20040,3825],[20390,3825],[18460,3760],[18820,3763],[18990,3730],[16810,3804],[17160,3800],
  [16430,3771],[17440,3755],[20530,3730],[16690,3710],[16870,3689],[16750,3645],[17360,3683],[16430,3590],
  [17100,3590],[18400,3590],[19350,3590],[17700,3541],[18290,3532],[19370,3538],[16810,3538],[17340,3505],
  [18050,3478],[16810,3494],[16990,3464],[17840,3415],[16630,3382],[17100,3382],[18230,3382],[18460,3395],
  [17130,3338],[17520,3325],[18520,3282],[18990,3264],[16630,3231],[16810,3245],[17450,3241],[17600,3238],
  [16370,3163],[16510,3158],[17160,3059],[17400,3037],[22910,3822],[21930,3714],[20770,3362],[21680,3356],
  [19400,2823],[18510,2561],[17340,2711],[16980,2786],[15990,2471],[15460,2360],[14500,2481],[12700,2186],
  [11910,2159],[11490,2146],[14010,2033],[14180,1946],[11240,1825],[12800,1807],[13260,1817],[11450,1718],
  [15000,1697],[17550,1863],[16600,1679],[18050,1745],[19010,1641],[19750,1716],[19860,1775],[20460,1716],
  [20850,1801],[21740,1853],[21770,2413],[19960,2263],[20140,2084],[23160,2068],[22480,1575],[15960,1555],
  [16570,2898],[14810,2773],[14880,2635],[15350,2697],[14950,2716],[14060,2612],[14040,2582],[15650,2833],
  [15900,2770],[15040,2876],[13410,2496],[13020,2452],[12440,2320],[11660,2283],[11210,2257],[11390,2220],
  [12680,2186],[11890,2151],[11510,2144],[11080,2122],[11960,2132],[10600,2151],[10330,2107],[10130,1887],[9900,1870],
  [7940,1629],[7640,1694],[9070,1610],[9000,1579],[19860,1707],[20680,1353],
  [3480,365],[3690,443],[5180,399],[5390,501],[8370,365],[9820,576],[3650,589],[3830,609],[4400,652],
  [6030,662],[7200,649],[4180,721],[5350,748],[6210,728],[3760,754],[3580,784],[3550,816],[4720,846],
  [5040,905],[6840,939],[6840,898],[9400,918],[10670,787],[13650,772],[13970,858],[14820,816],[11350,1029],
  [11560,935],[8510,1305],[10350,1230],[12020,1296],[9500,1479],[9010,1581],[9040,1611],[9180,1676],
  [12520,1561],[14960,1696],[16030,1604],[16600,1680],[17200,1552],[18160,1482],[18300,1528],[18400,1423],
  [18550,1331],[18160,1299],[19290,1525],[19570,1510],[19400,1575],[19750,1772],[19750,1706],[19750,1407],
  [19680,1335],[19720,1614],[13970,2032],[11280,1824],[11490,1716],
  [49890,3457],[43690,3217],[51700,2836],[29220,2761],[29040,2668],[25390,2448],[26170,2245],[29720,2280],
  [30390,2320],[36450,2370],[40030,2377],[20180,2087],[23870,2043],[24650,2061],[26770,2013],[29720,2013],
  [29790,1979],[31880,2093],[33160,2043],[35000,1967],[35890,1992],[36850,1916],[37770,1869],[40460,2077],
  [41280,2084],[41560,1972],[44080,2095],[23480,1885],[24930,1811],[25390,1834],[25070,1759],[25210,1749],
  [25390,1686],[25780,1628],[26520,1834],[28940,1875],[30250,1834],[31280,1818],[32620,1857],[32770,1673],
  [35960,1534],[20500,1713],[22480,1628],[22020,1594],[21770,1561],[23900,1450],[24330,1435],[26670,1412],[20670,1355]
]

const RED = "#F8766D"
const CYAN = "#00BFC4"
const SERIF = "'Liberation Serif', 'Times New Roman', serif"

// ggplot-like axis: black line, short outside ticks, no grid
function axis(min, max, ticks, tickLength, labelPad, title, titlePad, fit) {
  return {
    type: "linear",
    min, max,
    afterBuildTicks: (scale) => { scale.ticks = ticks.map(v => ({ value: v })) },
    afterFit: fit,
    ticks: {
      color: "#000",
      font: { family: SERIF, size: 48 },
      padding: labelPad,
      maxRotation: 0,
      autoSkip: false,
      callback: (v) => String(v)
    },
    grid: { display: true, drawOnChartArea: false, drawTicks: true, tickLength, tickWidth: 4, tickColor: "#000" },
    border: { display: true, color: "#000", width: 4 },
    title: { display: true, text: title, color: "#000", font: { family: SERIF, size: 56 }, padding: titlePad }
  }
}

function makePanel(canvasId, title, yTitle, yMin, yMax, yTicks, redPts, cyanPts) {
  const ctx = document.getElementById(canvasId).getContext("2d")
  return new Chart(ctx, {
    type: "scatter",
    data: {
      datasets: [
        // first dataset is painted last, so cyan sits on top of red
        { label: "cyan", data: cyanPts, backgroundColor: CYAN, pointRadius: 5.8, borderWidth: 0 },
        { label: "red", data: redPts, backgroundColor: RED, pointRadius: 5.8, borderWidth: 0 }
      ]
    },
    options: {
      responsive: false,
      animation: false,
      devicePixelRatio: 1,
      events: [],
      layout: { padding: { left: 0, right: 29, top: 0, bottom: 0 } },
      plugins: {
        legend: { display: false },
        tooltip: { enabled: false },
        title: {
          display: true,
          text: title,
          color: "#000",
          fullSize: false,
          font: { family: SERIF, size: 66, weight: "bold" },
          padding: { top: 13, bottom: 24 }
        }
      },
      scales: {
        x: axis(-670, 54200, xTicks, 14, 3, axisTitles.x, { top: 0, bottom: 25 }, (s) => { s.height = 169 }),
        y: axis(yMin, yMax, yTicks, 15, 13, yTitle, { top: 19, bottom: 0 }, (s) => { s.width = 223 })
      }
    }
  })
}

makePanel("mtChart", panelTitles[0], axisTitles.mt, -0.99, 20.64, mtTicks, mtRed, mtCyan)
makePanel("featureChart", panelTitles[1], axisTitles.feature, 180, 4175, featureTicks, featRed, featCyan)
</script>
</body>
</html>
